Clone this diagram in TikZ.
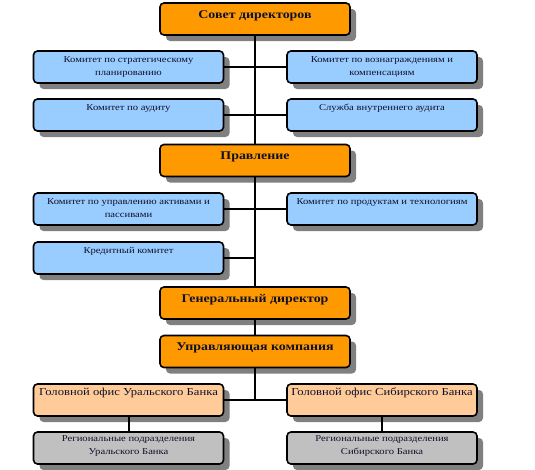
\documentclass[tikz,border=0pt]{standalone}
\usepackage{fontspec}
\setmainfont[FakeStretch=1.18]{Liberation Serif}
\usetikzlibrary{shadows}
\definecolor{orangeC}{HTML}{FF9900}
\definecolor{blueC}{HTML}{99CCFF}
\definecolor{peachC}{HTML}{FFCC99}
\definecolor{grayC}{HTML}{C0C0C0}
\definecolor{shadowC}{HTML}{808080}
\definecolor{textC}{HTML}{10102A}
\newcommand{\bxt}[3]{\parbox[c][32pt][t]{190pt}{\centering\color{textC}#1\rule{0pt}{#2}#3}}
\newcommand{\smallf}{\fontsize{9}{13.3}\selectfont}
\newcommand{\titlef}{\fontsize{11.8}{14}\selectfont\bfseries}
\newcommand{\midf}{\fontsize{10.7}{13}\selectfont}
\tikzset{
  basebox/.style={draw=black, line width=1.6pt, rounded corners=4pt, inner sep=0pt,
    general shadow={fill=shadowC, shadow xshift=6pt, shadow yshift=-6pt}},
  orangebox/.style={basebox, fill=orangeC},
  bluebox/.style={basebox, fill=blueC},
  peachbox/.style={basebox, fill=peachC},
  graybox/.style={basebox, fill=grayC},
  conn/.style={draw=black, line width=2pt}
}
\begin{document}
\begin{tikzpicture}[x=1pt,y=-1pt]
\useasboundingbox (0,0) rectangle (535,469);
\node[orangebox] (sovet) at (255,19) {\bxt{\titlef}{15pt}{Совет директоров}};
\node[bluebox] (l1) at (128.5,67) {\bxt{\smallf}{11pt}{Комитет по стратегическому\\планированию}};
\node[bluebox] (r1) at (382,67) {\bxt{\smallf}{11pt}{Комитет по вознаграждениям и\\компенсациям}};
\node[bluebox] (l2) at (128.5,115) {\bxt{\smallf}{11pt}{Комитет по аудиту}};
\node[bluebox] (r2) at (382,115) {\bxt{\smallf}{11pt}{Служба внутреннего аудита}};
\node[orangebox] (prav) at (255,160.5) {\bxt{\titlef}{15pt}{Правление}};
\node[bluebox] (l3) at (128.5,209) {\bxt{\smallf}{11pt}{Комитет по управлению активами и\\пассивами}};
\node[bluebox] (r3) at (382,209) {\bxt{\smallf}{11pt}{Комитет по продуктам и технологиям}};
\node[bluebox] (l4) at (128.5,258) {\bxt{\smallf}{11pt}{Кредитный комитет}};
\node[orangebox] (gen) at (255,303) {\bxt{\titlef}{15pt}{Генеральный директор}};
\node[orangebox] (upr) at (255,351.5) {\bxt{\titlef}{15pt}{Управляющая компания}};
\node[peachbox] (gl) at (128.5,400) {\bxt{\midf}{11.5pt}{Головной офис Уральского Банка}};
\node[peachbox] (gr) at (382,400) {\bxt{\midf}{11.5pt}{Головной офис Сибирского Банка}};
\node[graybox] (rl) at (128.5,448) {\bxt{\smallf}{9.5pt}{Региональные подразделения\\Уральского Банка}};
\node[graybox] (rr) at (382,448) {\bxt{\smallf}{9.5pt}{Региональные подразделения\\Сибирского Банка}};
\draw[conn] (sovet) -- (prav);
\draw[conn] (prav) -- (gen);
\draw[conn] (gen) -- (upr);
\draw[conn] (l1) -- (r1);
\draw[conn] (l2) -- (r2);
\draw[conn] (l3) -- (r3);
\draw[conn] (l4.east) -- (l4.east -| prav.south);
\draw[conn] (upr.south) -- (upr.south |- gl.east);
\draw[conn] (gl) -- (gr);
\draw[conn] (gl) -- (rl);
\draw[conn] (gr) -- (rr);
\end{tikzpicture}
\end{document}
